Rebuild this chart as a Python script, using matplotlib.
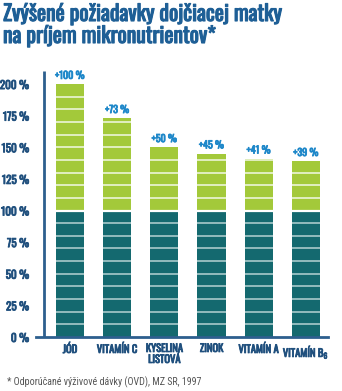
import matplotlib
matplotlib.use('Agg')
import matplotlib.pyplot as plt
import matplotlib.patheffects as pe
from matplotlib import font_manager

names = ['JÓD', 'VITAMÍN C', 'KYSELINA\nLISTOVÁ', 'ZINOK', 'VITAMÍN A',
         'VITAMÍN B$_6$']
base = [100, 100, 100, 100, 100, 100]
extra = [100, 73, 50, 45, 41, 39]
yticks = [0, 25, 50, 75, 100, 125, 150, 175, 200]

GREEN = '#a3c93a'
TEAL = '#14696f'
DARK = '#1f4f7d'
BLUE = '#1d87c9'

avail = {f.name for f in font_manager.fontManager.ttflist}


def pick(*fams):
    for f in fams:
        if f in avail:
            return f
    return 'DejaVu Sans'


def fat(color, w):
    # thicken glyphs of a font that ships a single weight
    return [pe.withStroke(linewidth=w, foreground=color)]


cond = pick('Oswald', 'Roboto Condensed', 'PT Sans Narrow', 'Barlow Condensed',
            'Open Sans Condensed', 'Archivo Narrow', 'Liberation Sans Narrow')
light = pick('Open Sans Condensed Light', 'Roboto Condensed', 'PT Sans Narrow',
             'Oswald', 'Open Sans')
plt.rcParams['font.family'] = [cond, 'DejaVu Sans']
plt.rcParams['mathtext.fontset'] = 'custom'
plt.rcParams['mathtext.rm'] = cond

W, H = 342, 391
fig = plt.figure(figsize=(W / 100, H / 100), dpi=100)
ax = fig.add_axes([36 / W, (H - 337) / H, (328 - 36) / W, (337 - 71.4) / H])

x = list(range(len(names)))
ax.bar(x, base, width=0.6, color=TEAL, zorder=2)
ax.bar(x, extra, bottom=base, width=0.6, color=GREEN, zorder=2)

# segment separators every 10 %
for xi, b, e in zip(x, base, extra):
    for lvl in range(10, b + e, 10):
        if lvl < b:
            col, lw = '#9dc2c4', 1.3
        elif lvl == b:
            col, lw = 'white', 1.6
        else:
            col, lw = '#e6f1cc', 1.3
        ax.plot([xi - 0.3, xi + 0.3], [lvl, lvl], color=col, lw=lw,
                solid_capstyle='butt', zorder=3)
    ax.text(xi, b + e + 2.5, '+%d %%' % e, ha='center', va='bottom',
            color=BLUE, fontsize=7.2, path_effects=fat(BLUE, 0.6))

ax.set_xlim(-0.72, 5.47)
ax.set_ylim(0, 210)
for s in ('top', 'right', 'left'):
    ax.spines[s].set_visible(False)
ax.spines['bottom'].set_color('#2d5f8e')
ax.spines['bottom'].set_linewidth(2)
ax.plot([-0.55, -0.55], [0, 210], color='#2d5f8e', lw=2, clip_on=False,
        solid_capstyle='butt', zorder=4)

ax.set_yticks(yticks)
ax.set_yticklabels(['%d %%' % v for v in yticks], color=DARK, fontsize=8)
ax.tick_params(axis='y', length=0, pad=5)
ax.set_xticks(x)
ax.set_xticklabels(names, color=DARK, fontsize=7.6, linespacing=1.0, va='top')
ax.tick_params(axis='x', length=0, pad=5)
for lab in ax.get_yticklabels() + ax.get_xticklabels():
    lab.set_path_effects(fat(DARK, 0.6))

fig.text(3 / W, 1 - 3 / H, 'Zvýšené požiadavky dojčiacej matky\nna príjem mikronutrientov*',
         ha='left', va='top', color='#1e5f96', fontsize=15.6, linespacing=1.0,
         path_effects=fat('#1e5f96', 0.8))
fig.text(7 / W, 1 - 382 / H, '* Odporúčané výživové dávky (OVD), MZ SR, 1997',
         ha='left', va='center', color='#555555', fontsize=7.2,
         family=[light, 'DejaVu Sans'])

fig.savefig('out.png', dpi=100)
